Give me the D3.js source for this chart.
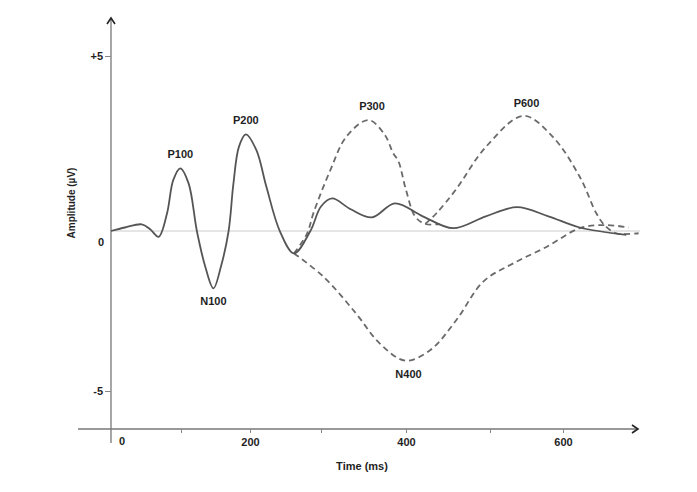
<!DOCTYPE html>
<html>
<head>
<meta charset="utf-8">
<title>ERP components</title>
<script src="https://cdn.jsdelivr.net/npm/d3@7"></script>
<style>
  body { margin: 0; background: #fff; }
  svg text { font-family: "Liberation Sans", Arial, sans-serif; font-weight: bold; fill: #1f1f1f; }
  .tick line { stroke: #888; }
  .erp { fill: none; stroke-width: 1.8px; stroke-linejoin: round; }
  .solid { stroke: #555; }
  .dashed { stroke: #6a6a6a; stroke-dasharray: 6,4; }
</style>
</head>
<body>
<svg width="697" height="492"></svg>
<script>
// time (ms), amplitude (µV)
var mainWave = [[0,0],[20,0.1],[44,0.19],[56,0.05],[68,-0.18],[80,0.5],[89,1.46],[99,1.79],[111,1.36],[123,0],[135,-1.1],[147,-1.79],[158,-1.1],[169,0],[176,1.36],[184,2.41],[194,2.76],[209,2.31],[223,1.27],[242,0],[262,-0.7],[285,0],[300,0.7],[313,0.93],[335,0.62],[360,0.39],[387,0.79],[420,0.42],[456,0.08],[495,0.42],[537,0.68],[580,0.42],[623,0.1],[687,-0.12]];
var p300Wave = [[262,-0.7],[280,-0.1],[290,0.55],[311,1.74],[330,2.7],[356,3.17],[375,2.75],[385,2.22],[391,2.0],[400,1.17],[411,0.41],[423,0.2],[440,0.2]];
var p600Wave = [[423,0.2],[436,0.5],[459,1.17],[495,2.4],[546,3.29],[586,2.69],[623,1.55],[646,0.5],[657,0.17],[673,-0.07],[704,-0.07]];
var n400Wave = [[262,-0.7],[303,-1.43],[341,-2.57],[369,-3.51],[399,-4.05],[429,-3.72],[460,-2.78],[492,-1.58],[532,-1.01],[578,-0.49],[623,0.08],[659,0.17],[690,0.1]];

var peakLabels = [
  {name: "P100", t: 99, v: 1.79, dy: -10},
  {name: "N100", t: 147, v: -1.79, dy: 17},
  {name: "P200", t: 194, v: 2.76, dy: -10},
  {name: "P300", t: 360, v: 3.17, dy: -10},
  {name: "P600", t: 550, v: 3.29, dy: -9},
  {name: "N400", t: 403, v: -4.05, dy: 17}
];

var xTicks = [100, 200, 300, 400, 500, 600];
var xLabelTicks = [200, 400, 600];
var yTicks = [5, -5];

var svg = d3.select("svg");

// the drawing is a schematic, so the axes are not evenly spaced
var x = d3.scaleLinear()
  .domain([0, 100, 200, 300, 400, 500, 600, 710])
  .range([111, 181, 250, 321, 406, 490, 563, 643]);
var y = d3.scaleLinear()
  .domain([-5, 0, 5])
  .range([391, 231, 56]);

var axisX0 = 78, axisX1 = 638, axisY = 429;
var axisTop = 18, axisBottom = 443;

// zero line
svg.append("line")
  .attr("x1", x(0)).attr("x2", 640)
  .attr("y1", y(0)).attr("y2", y(0))
  .attr("stroke", "#ccc").attr("stroke-width", 1);

// axes
svg.append("line")
  .attr("x1", x(0)).attr("x2", x(0))
  .attr("y1", axisTop).attr("y2", axisBottom)
  .attr("stroke", "#777").attr("stroke-width", 1.3);
svg.append("line")
  .attr("x1", axisX0).attr("x2", axisX1)
  .attr("y1", axisY).attr("y2", axisY)
  .attr("stroke", "#777").attr("stroke-width", 1.3);
svg.append("path")
  .attr("d", "M" + (x(0) - 4) + "," + (axisTop + 6) + "L" + x(0) + "," + axisTop + "L" + (x(0) + 4) + "," + (axisTop + 6))
  .attr("fill", "none").attr("stroke", "#222").attr("stroke-width", 1.6);
svg.append("path")
  .attr("d", "M" + (axisX1 - 6) + "," + (axisY - 4) + "L" + axisX1 + "," + axisY + "L" + (axisX1 - 6) + "," + (axisY + 4))
  .attr("fill", "none").attr("stroke", "#222").attr("stroke-width", 1.6);

var gx = svg.append("g")
  .attr("transform", "translate(0," + axisY + ")")
  .call(d3.axisBottom(x).tickValues(xTicks).tickSize(4).tickPadding(5)
    .tickFormat(function(d) { return xLabelTicks.indexOf(d) >= 0 ? d : ""; }));
gx.select(".domain").remove();
gx.selectAll("text").style("font-size", "11px");
svg.append("text")
  .attr("x", x(0) + 11).attr("y", axisY + 16)
  .attr("text-anchor", "middle").style("font-size", "11px")
  .text("0");

var gy = svg.append("g")
  .attr("transform", "translate(" + x(0) + ",0)")
  .call(d3.axisLeft(y).tickValues(yTicks).tickSize(6).tickPadding(2)
    .tickFormat(function(d) { return d > 0 ? "+" + d : "-" + Math.abs(d); }));
gy.select(".domain").remove();
gy.selectAll("text").style("font-size", "11px");
svg.append("text")
  .attr("x", x(0) - 10).attr("y", y(0) + 15)
  .attr("text-anchor", "middle").style("font-size", "11px")
  .text("0");

// axis titles
svg.append("text")
  .attr("transform", "translate(75," + 203 + ") rotate(-90)")
  .attr("text-anchor", "middle").style("font-size", "10px")
  .text("Amplitude (µV)");
svg.append("text")
  .attr("x", 362).attr("y", 470)
  .attr("text-anchor", "middle").style("font-size", "11px")
  .text("Time (ms)");

// waves
var line = d3.line()
  .curve(d3.curveCatmullRom.alpha(0.5))
  .x(function(d) { return x(d[0]); })
  .y(function(d) { return y(d[1]); });

[p300Wave, p600Wave, n400Wave].forEach(function(w) {
  svg.append("path").attr("class", "erp dashed").attr("d", line(w));
});
svg.append("path").attr("class", "erp solid").attr("d", line(mainWave));

svg.selectAll(".peak")
  .data(peakLabels)
  .enter().append("text")
    .attr("class", "peak")
    .attr("x", function(d) { return x(d.t); })
    .attr("y", function(d) { return y(d.v) + d.dy; })
    .attr("text-anchor", "middle")
    .style("font-size", "11px")
    .text(function(d) { return d.name; });
</script>
</body>
</html>
